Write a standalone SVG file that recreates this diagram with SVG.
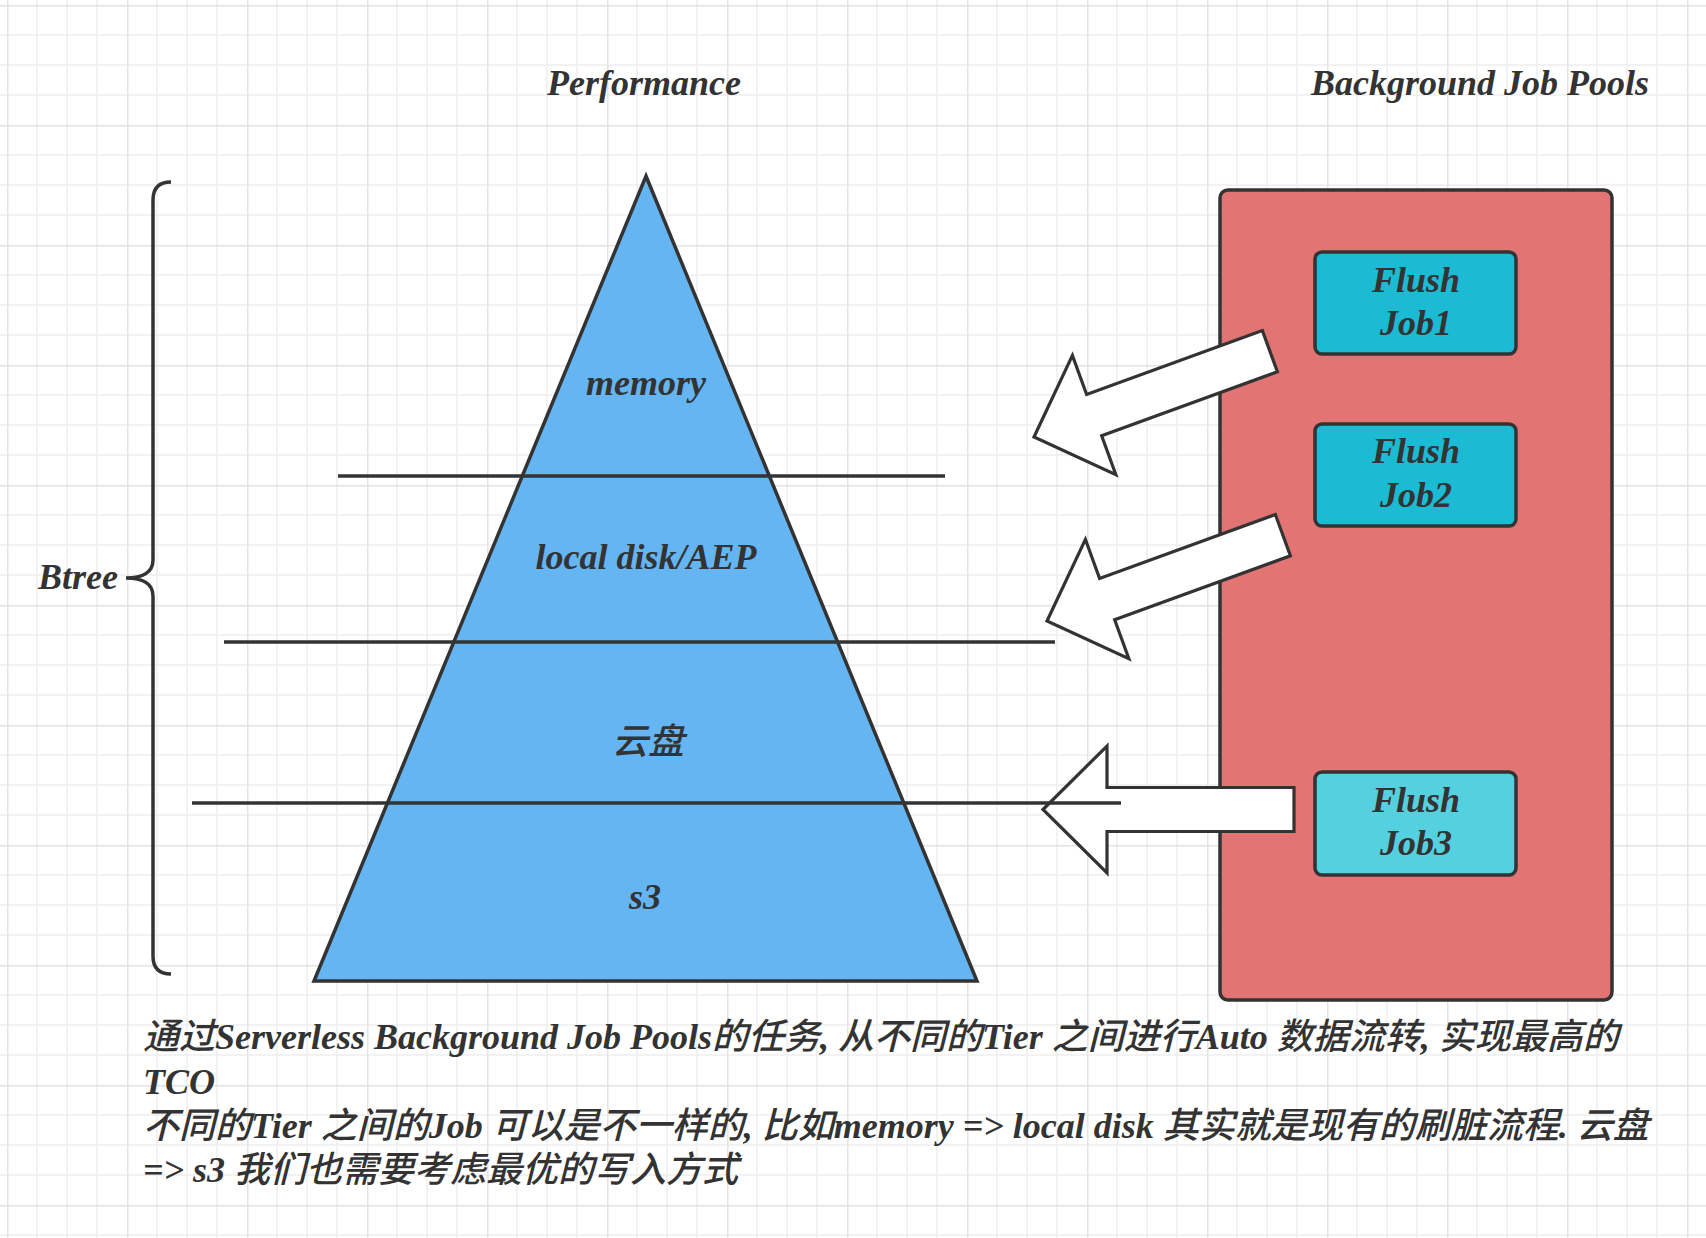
<svg xmlns="http://www.w3.org/2000/svg" width="1706" height="1238" viewBox="0 0 1706 1238">
<style>
.t{font-family:"Liberation Serif","Noto Sans CJK SC",serif;font-weight:bold;font-style:italic;font-size:36px;fill:#333333}
.m{text-anchor:middle}
.c{font-weight:500}
.ln{stroke:#333333;stroke-width:3.5;fill:none}
.box{stroke:#333333;stroke-width:3.5}
.arr{fill:#ffffff;stroke:#333333;stroke-width:3.2;stroke-linejoin:miter}
</style>
<defs>
<pattern id="grid" x="7" y="5" width="120" height="120" patternUnits="userSpaceOnUse">
<path d="M30,0V120M60,0V120M90,0V120M0,30H120M0,60H120M0,90H120" stroke="#eeeeee" stroke-width="1.5" fill="none"/>
<path d="M0.5,0V120M0,0.5H120" stroke="#e4e4e4" stroke-width="2" fill="none"/>
</pattern>
<polygon id="arrowShape" points="0,0 64,-63.5 64,-22 251,-22 251,22 64,22 64,63.5"/>
</defs>
<rect width="1706" height="1238" fill="#ffffff"/>
<rect width="1706" height="1238" fill="url(#grid)"/>

<g id="title-performance"><text class="t m" x="644" y="95">Performance</text></g>
<g id="title-pools"><text class="t m" x="1480" y="95">Background Job Pools</text></g>

<g id="brace">
<path class="ln" d="M171,182 C160,182 153,187 153,200 V560 C153,572 143,578 126,578 C143,578 153,584 153,596 V956 C153,969 160,974 171,974"/>
<text class="t" x="38" y="589">Btree</text>
</g>

<g id="pyramid">
<polygon points="646,176 977,981 314,981" fill="#64B5F2" stroke="#333333" stroke-width="3.5" stroke-linejoin="miter"/>
</g>
<g id="tier-labels">
<text class="t m" x="646" y="395">memory</text>
<text class="t m" x="646" y="569">local disk/AEP</text>
<text class="t m" x="648" y="754"><tspan class="c">云盘</tspan></text>
<text class="t m" x="645" y="909">s3</text>
</g>

<g id="pool">
<rect class="box" x="1220" y="190" width="392" height="810" rx="8" fill="#E27474"/>
</g>
<g id="job1">
<rect class="box" x="1315" y="252" width="201" height="102" rx="7" fill="#1BBBD3"/>
<text class="t m" x="1416" y="292">Flush</text>
<text class="t m" x="1416" y="335">Job1</text>
</g>
<g id="job2">
<rect class="box" x="1315" y="424" width="201" height="102" rx="7" fill="#1BBBD3"/>
<text class="t m" x="1416" y="463">Flush</text>
<text class="t m" x="1416" y="507">Job2</text>
</g>
<g id="job3">
<rect class="box" x="1315" y="772" width="201" height="103" rx="7" fill="#55D0DF"/>
<text class="t m" x="1416" y="812">Flush</text>
<text class="t m" x="1416" y="855">Job3</text>
</g>

<g id="connectors">
<use href="#arrowShape" class="arr" transform="translate(1034,437) rotate(-20)"/>
<use href="#arrowShape" class="arr" transform="translate(1047,621) rotate(-20)"/>
<use href="#arrowShape" class="arr" transform="translate(1043,809.5)"/>
<line class="ln" x1="338" y1="476" x2="945" y2="476"/>
<line class="ln" x1="224" y1="642" x2="1055" y2="642"/>
<line class="ln" x1="192" y1="803" x2="1121" y2="803"/>
</g>

<g id="note">
<text class="t" x="143" y="1049"><tspan class="c">通过</tspan>Serverless Background Job Pools<tspan class="c">的任务</tspan>, <tspan class="c">从不同的</tspan>Tier <tspan class="c">之间进行</tspan>Auto <tspan class="c">数据流转</tspan>, <tspan class="c">实现最高的</tspan></text>
<text class="t" x="143" y="1094">TCO</text>
<text class="t" x="143" y="1138"><tspan class="c">不同的</tspan>Tier <tspan class="c">之间的</tspan>Job <tspan class="c">可以是不一样的</tspan>, <tspan class="c">比如</tspan>memory =&gt; local disk <tspan class="c">其实就是现有的刷脏流程</tspan>. <tspan class="c">云盘</tspan></text>
<text class="t" x="143" y="1182">=&gt; s3 <tspan class="c">我们也需要考虑最优的写入方式</tspan></text>
</g>
</svg>
